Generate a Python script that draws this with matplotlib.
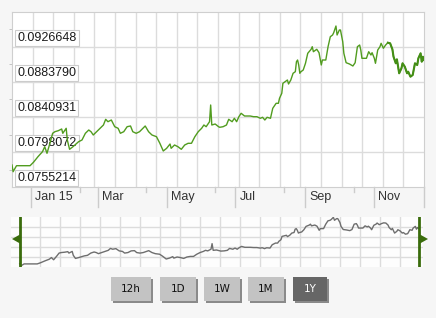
import numpy as np
import matplotlib
matplotlib.use('Agg')
import matplotlib.pyplot as plt
from matplotlib.patches import Rectangle, Polygon

# rate history, one year, days counted from the first point
start = np.datetime64('2014-12-15')
days = [0, 1, 4, 16, 19, 23, 27, 29, 31, 34, 36, 38, 41, 44, 45, 48, 49, 51, 54, 59,
        62, 65, 68, 70, 72, 75, 78, 81, 83, 85, 88, 91, 94, 96, 99, 102, 105, 107, 110, 113,
        116, 118, 121, 124, 128, 131, 134, 137, 140, 141, 144, 147, 150, 153, 156, 159, 162, 165, 168, 170,
        172, 175, 176, 177, 180, 183, 184, 187, 190, 192, 195, 197, 199, 201, 203, 206, 211, 214, 217, 220,
        222, 224, 226, 229, 230, 231, 234, 236, 237, 239, 240, 242, 244, 245, 247, 249, 251, 252, 253, 254,
        255, 256, 258, 260, 262, 265, 266, 267, 270, 272, 274, 275, 278, 280, 282, 284, 285, 287, 288, 290,
        291, 293, 294, 296, 299, 302, 304, 306, 308, 309, 310, 314, 316, 318, 319, 321, 322, 324, 326, 327,
        329, 331, 333, 335, 337, 338, 340, 341, 343, 345, 346, 348, 350, 351, 353, 355, 357, 359, 360, 362,
        363, 364, 365]
rate = [0.078215, 0.077395, 0.078130, 0.078130, 0.078546, 0.079232, 0.079844, 0.080456, 0.079648, 0.081068,
        0.082097, 0.082293, 0.082415, 0.082624, 0.082097, 0.082709, 0.081277, 0.080138, 0.080456, 0.081068,
        0.081277, 0.082097, 0.082501, 0.082293, 0.081889, 0.082293, 0.082709, 0.083113, 0.083811, 0.083517,
        0.083726, 0.082905, 0.082709, 0.082097, 0.082293, 0.082905, 0.082991, 0.082293, 0.082097, 0.082293,
        0.082709, 0.082991, 0.082293, 0.081889, 0.081681, 0.080872, 0.079930, 0.080260, 0.080787, 0.080260,
        0.080664, 0.080456, 0.080138, 0.080664, 0.080872, 0.080872, 0.081681, 0.082293, 0.082709, 0.083113,
        0.082905, 0.083517, 0.085562, 0.083113, 0.083236, 0.082905, 0.082832, 0.082905, 0.083113, 0.083811,
        0.083517, 0.083934, 0.083517, 0.084130, 0.084546, 0.084215, 0.084215, 0.084130, 0.084130, 0.083934,
        0.084056, 0.083726, 0.084056, 0.083934, 0.084546, 0.085158, 0.085770, 0.085770, 0.086383, 0.086995,
        0.088220, 0.088415, 0.088624, 0.088134, 0.088624, 0.089444, 0.089640, 0.090864, 0.091072, 0.090460,
        0.089444, 0.089640, 0.089848, 0.090668, 0.091893, 0.092383, 0.092701, 0.092089, 0.092383, 0.091966,
        0.090460, 0.091072, 0.091072, 0.092701, 0.093925, 0.094134, 0.094415, 0.095235, 0.094134, 0.094746,
        0.094746, 0.093313, 0.091893, 0.090742, 0.090583, 0.090338, 0.090742, 0.092701, 0.092909, 0.092297,
        0.091281, 0.091281, 0.092089, 0.091685, 0.091966, 0.091281, 0.090668, 0.092297, 0.092701, 0.093117,
        0.092505, 0.092909, 0.093191, 0.093117, 0.092383, 0.091477, 0.090668, 0.091158, 0.089444, 0.090056,
        0.090668, 0.090252, 0.089444, 0.089640, 0.089028, 0.089236, 0.090668, 0.090460, 0.091281, 0.091893,
        0.090864, 0.091477, 0.091072]

y_labels = ['0.0755214', '0.0798072', '0.0840931', '0.0883790', '0.0926648']
month_ticks = ['2015-01-01', '2015-03-01', '2015-05-01', '2015-07-01', '2015-09-01', '2015-11-01']
month_labels = ['Jan 15', 'Mar', 'May', 'Jul', 'Sep', 'Nov']
minor_ticks = ['2015-02-13', '2015-04-13', '2015-06-13', '2015-08-13', '2015-10-14']
buttons = ['12h', '1D', '1W', '1M', '1Y']
active = '1Y'

dates = start + np.array(days).astype('timedelta64[D]')
rate = np.array(rate)
y_ticks = [float(s) for s in y_labels]
step = y_ticks[1] - y_ticks[0]

W, H = 436, 318
bg = '#f6f6f6'
grid_c = '#dcdcdc'
line_c = '#519c1f'
fig = plt.figure(figsize=(W / 100, H / 100), dpi=100, facecolor=bg)

def box(l, t, r, b):
    return [l / W, 1 - b / H, (r - l) / W, (b - t) / H]

# main chart
ax = fig.add_axes(box(12, 12, 424, 187))
ax.set_facecolor('white')
ax.set_xlim(dates[0], dates[0] + np.timedelta64(365, 'D'))
ax.set_ylim(y_ticks[0], y_ticks[-1] + step)
for v in y_ticks[1:]:
    ax.axhline(v, color=grid_c, lw=1, zorder=1)
for i in range(1, 20):
    ax.plot([i / 20, i / 20], [0, 1], transform=ax.transAxes, color=grid_c, lw=1, zorder=1)
ax.set_xticks([])
ax.set_yticks([])
ax.set_yticks([v + step / 2 for v in y_ticks], minor=True)
ax.tick_params(axis='y', which='minor', direction='out', length=2.5, color='#bbbbbb', labelleft=False)
for s in ax.spines.values():
    s.set_color('#cfcfcf')

# value labels sit under the line
for lab, v in zip(y_labels, y_ticks):
    ax.annotate(lab, xy=(0, v), xycoords=('axes fraction', 'data'), xytext=(5, 3),
                textcoords='offset pixels', ha='left', va='bottom', fontsize=9,
                family='Liberation Sans', color='#1a1a1a', zorder=2,
                bbox=dict(boxstyle='square,pad=0.18', fc='white', ec='#cccccc', lw=0.8))

ax.plot(dates, rate, color=line_c, lw=1.0, zorder=4)
thick = np.array(days) >= 333
ax.plot(dates[thick], rate[thick], color='#448e16', lw=1.5, zorder=4)

# date band under the chart
xt = ax.get_xaxis_transform()
band = 20 / 175
for d in month_ticks:
    ax.plot([np.datetime64(d)] * 2, [0, -band], transform=xt, color='#cccccc', lw=1, clip_on=False)
for d in minor_ticks:
    ax.plot([np.datetime64(d)] * 2, [0, -5 / 175], transform=xt, color='#cccccc', lw=1, clip_on=False)
ax.plot([1, 1], [0, -band], transform=ax.transAxes, color='#cccccc', lw=1, clip_on=False)
for d, lab in zip(month_ticks, month_labels):
    ax.annotate(lab, xy=(np.datetime64(d), -band / 2), xycoords=xt, xytext=(4, 0),
                textcoords='offset pixels', ha='left', va='center', fontsize=9,
                family='Liberation Sans', color='#333333')

# navigator
nav = fig.add_axes(box(11, 217, 423, 267))
nav.set_facecolor('#fdfdfd')
lo, hi = rate.min(), rate.max()
nav.set_xlim(dates[0] - np.timedelta64(8, 'D'), dates[-1] + np.timedelta64(4, 'D'))
nav.set_ylim(lo - 0.0004, hi + 0.0001)
for i in range(1, 5):
    nav.plot([0, 1], [i / 5, i / 5], transform=nav.transAxes, color=grid_c, lw=1)
for x in range(40, 420, 20):
    f = (x - 11) / 412
    nav.plot([f, f], [0, 1], transform=nav.transAxes, color=grid_c, lw=1)
nav.plot(dates, rate, color='#6e6e6e', lw=1.0)
nav.axvline(dates[0], color='#3a6c0c', lw=2)
nav.axvline(dates[-1], color='#3a6c0c', lw=2)
nav.set_xticks([])
nav.set_yticks([])
for s in nav.spines.values():
    s.set_visible(False)

# overlay for handles and buttons (pixel coords)
ov = fig.add_axes([0, 0, 1, 1], facecolor='none')
ov.set_xlim(0, W)
ov.set_ylim(H, 0)
ov.axis('off')
ov.add_patch(Polygon([[12, 239], [20, 234.5], [20, 243.5]], closed=True, fc='#3a6c0c', ec='none'))
ov.add_patch(Polygon([[428, 239], [420, 234.5], [420, 243.5]], closed=True, fc='#3a6c0c', ec='none'))

spans = [(111, 151), (160, 196), (204, 240), (248, 284), (293, 327)]
for lab, (l, r) in zip(buttons, spans):
    on = lab == active
    ov.add_patch(Rectangle((l + 1.5, 278.5), r - l, 24, fc='#8a8a8a', ec='none'))
    ov.add_patch(Rectangle((l, 277), r - l, 24, fc='#666666' if on else '#c3c3c3', ec='none'))
    ov.text((l + r) / 2, 289.5, lab, ha='center', va='center', fontsize=7.5,
            family='DejaVu Sans', color='white' if on else '#111111')

fig.savefig('out.png', dpi=100, facecolor=bg)
